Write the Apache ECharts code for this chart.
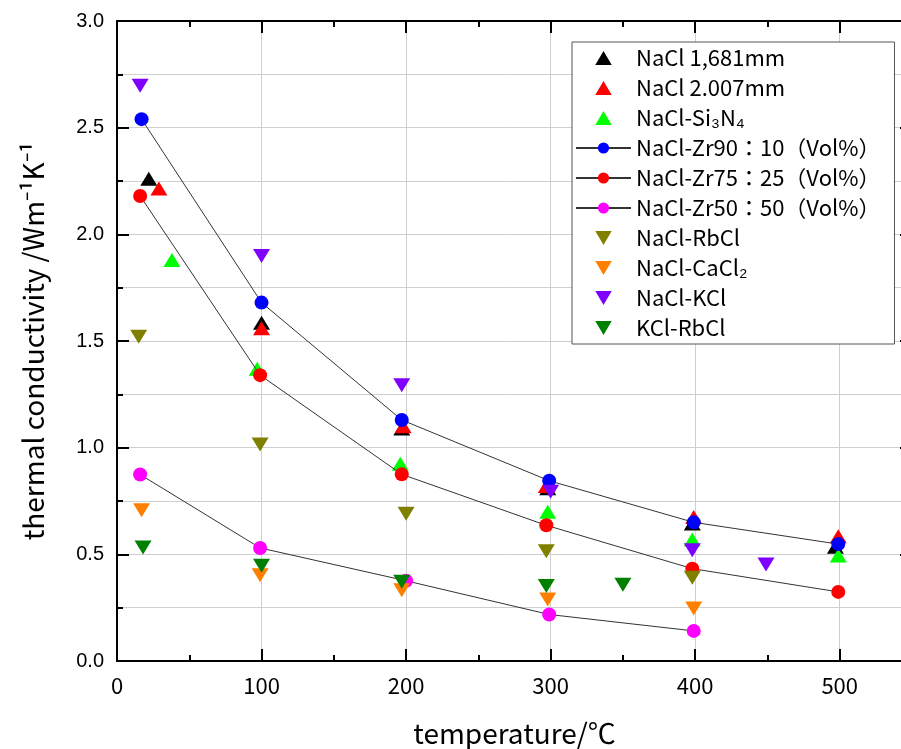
<!DOCTYPE html>
<html>
<head>
<meta charset="utf-8">
<script src="https://cdn.jsdelivr.net/npm/echarts@6/dist/echarts.min.js"></script>
<style>
  html, body { margin: 0; padding: 0; background: #ffffff; overflow: hidden; }
  #chart { width: 901px; height: 749px; }
</style>
</head>
<body>
<div id="chart"></div>
<script>
// 数据 [温度, 热导率]
const nacl1681 = [[22, 2.26], [100, 1.585], [197, 1.09], [298, 0.81], [398, 0.645], [497, 0.535]];
const nacl2007 = [[29, 2.215], [100, 1.56], [198, 1.1], [297, 0.82], [399, 0.675], [499, 0.585]];
const naclSi3N4 = [[38, 1.88], [97, 1.37], [196, 0.925], [298, 0.7], [398, 0.57], [499, 0.495]];
const zr90 = [[17, 2.54], [100, 1.68], [197, 1.13], [299, 0.845], [399, 0.65], [499, 0.548]];
const zr75 = [[16, 2.18], [99, 1.34], [197, 0.875], [297, 0.636], [398, 0.433], [499, 0.324]];
const zr50 = [[16, 0.874], [99, 0.53], [200, 0.376], [299, 0.218], [399, 0.141]];
const naclRbCl = [[15, 1.52], [99, 1.015], [200, 0.69], [297, 0.515], [398, 0.39]];
const naclCaCl2 = [[17, 0.707], [99, 0.402], [197, 0.332], [298, 0.288], [399, 0.246]];
const naclKCl = [[16, 2.697], [100, 1.898], [197, 1.293], [300, 0.793], [398, 0.519], [449, 0.452]];
const kclRbCl = [[18, 0.532], [100, 0.446], [197, 0.371], [297, 0.352], [350, 0.358]];

const xTicks = [0, 100, 200, 300, 400, 500];
const yTicks = ['0.0', '0.5', '1.0', '1.5', '2.0', '2.5', '3.0'];

const upTri = 'path://M10,0L20,17L0,17Z';
const downTri = 'path://M0,0L20,0L10,17Z';
const cjk = '"Noto Sans CJK JP", sans-serif';

const chart = echarts.init(document.getElementById('chart'));

function scatter(name, data, color, symbol, z) {
  return {
    name: name,
    type: 'scatter',
    data: data,
    symbol: symbol,
    symbolSize: [17, 14],
    z: z,
    itemStyle: { color: color, opacity: 1 },
    emphasis: { disabled: true },
  };
}

function lineSeries(name, data, color) {
  return {
    name: name,
    type: 'line',
    data: data,
    symbol: 'circle',
    symbolSize: 14,
    showAllSymbol: true,
    z: 3,
    itemStyle: { color: color, opacity: 1 },
    lineStyle: { color: '#333333', width: 1 },
    emphasis: { disabled: true },
  };
}

const axisCommonX = {
  type: 'value',
  min: 0,
  max: 550,
  interval: 100,
  axisLine: { show: true, onZero: false, lineStyle: { color: '#000', width: 2 } },
  axisTick: { show: true, inside: true, length: 12, lineStyle: { color: '#000', width: 2 } },
  minorTick: { show: true, splitNumber: 2, length: 6, lineStyle: { color: '#000', width: 2 } },
};

const axisCommonY = {
  type: 'value',
  min: 0,
  max: 3,
  interval: 0.5,
  axisLine: { show: true, onZero: false, lineStyle: { color: '#000', width: 2 } },
  axisTick: { show: true, inside: true, length: 12, lineStyle: { color: '#000', width: 2 } },
  minorTick: { show: true, splitNumber: 2, length: 6, lineStyle: { color: '#000', width: 2 } },
};

const option = {
  animation: false,
  backgroundColor: '#ffffff',
  grid: { left: 117, top: 21, width: 795, height: 640, outerBoundsMode: 'none', containLabel: false },
  legend: {
    orient: 'vertical',
    left: 572,
    top: 42,
    padding: [5, 14, 5, 3],
    itemWidth: 55,
    itemHeight: 14,
    itemGap: 8,
    borderColor: '#555555',
    borderWidth: 1,
    borderRadius: 0,
    backgroundColor: '#ffffff',
    textStyle: { fontFamily: cjk, fontSize: 22, color: '#000' },
    data: [
      'NaCl 1,681mm', 'NaCl 2.007mm', 'NaCl-Si₃N₄',
      'NaCl-Zr90：10（Vol%）', 'NaCl-Zr75：25（Vol%）', 'NaCl-Zr50：50（Vol%）',
      'NaCl-RbCl', 'NaCl-CaCl₂', 'NaCl-KCl', 'KCl-RbCl',
    ],
  },
  xAxis: [
    Object.assign({}, axisCommonX, {
      position: 'bottom',
      name: 'temperature/℃',
      nameLocation: 'middle',
      nameGap: 58,
      nameTextStyle: { fontFamily: cjk, fontSize: 28, color: '#000' },
      axisLabel: {
        margin: 14,
        fontFamily: cjk,
        fontSize: 22,
        color: '#000',
        formatter: (v) => (xTicks.indexOf(v) >= 0 ? String(v) : ''),
      },
      splitLine: { show: true, lineStyle: { color: '#cfcfcf', width: 1 } },
    }),
    Object.assign({}, axisCommonX, {
      position: 'top',
      axisLabel: { show: false },
      splitLine: { show: false },
    }),
  ],
  yAxis: [
    Object.assign({}, axisCommonY, {
      position: 'left',
      name: 'thermal conductivity /Wm⁻¹K⁻¹',
      nameLocation: 'middle',
      nameGap: 70,
      nameRotate: 90,
      nameTextStyle: { fontFamily: cjk, fontSize: 28, color: '#000' },
      axisLabel: {
        margin: 13,
        fontFamily: '"Liberation Sans", Arial, sans-serif',
        fontSize: 20,
        color: '#000',
        formatter: (v) => yTicks[Math.round(v * 2)],
      },
      splitLine: { show: true, lineStyle: { color: '#cfcfcf', width: 1 } },
      minorSplitLine: { show: true, lineStyle: { color: '#cfcfcf', width: 1 } },
    }),
    Object.assign({}, axisCommonY, {
      position: 'right',
      axisLabel: { show: false },
      splitLine: { show: false },
    }),
  ],
  series: [
    scatter('NaCl 1,681mm', nacl1681, '#000000', upTri, 2),
    scatter('NaCl 2.007mm', nacl2007, '#ff0000', upTri, 2),
    scatter('NaCl-Si₃N₄', naclSi3N4, '#00ff00', upTri, 2),
    lineSeries('NaCl-Zr90：10（Vol%）', zr90, '#0000ff'),
    lineSeries('NaCl-Zr75：25（Vol%）', zr75, '#ff0000'),
    lineSeries('NaCl-Zr50：50（Vol%）', zr50, '#ff00ff'),
    scatter('NaCl-RbCl', naclRbCl, '#808000', downTri, 4),
    scatter('NaCl-CaCl₂', naclCaCl2, '#ff8000', downTri, 4),
    scatter('NaCl-KCl', naclKCl, '#8000ff', downTri, 4),
    scatter('KCl-RbCl', kclRbCl, '#008000', downTri, 4),
  ],
};

chart.setOption(option);

window.addEventListener('resize', () => {
  chart.resize();
});
</script>
</body>
</html>
